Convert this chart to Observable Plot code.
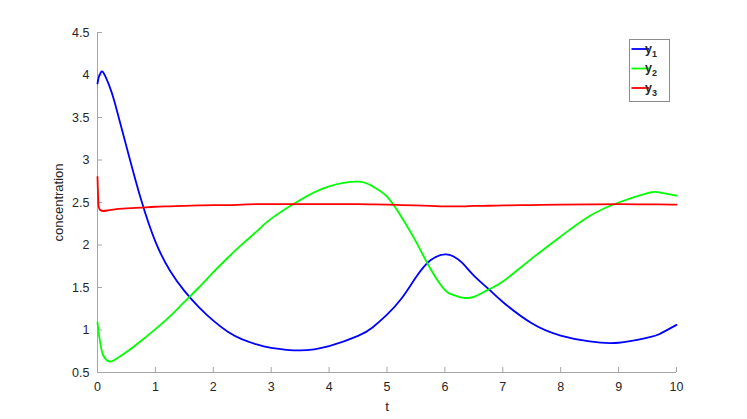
<!DOCTYPE html>
<html>
<head>
<meta charset="utf-8">
<script src="https://cdn.jsdelivr.net/npm/d3@7"></script>
<script src="https://cdn.jsdelivr.net/npm/@observablehq/plot@0.6"></script>
<style>
  html, body { margin: 0; padding: 0; background: #fff; }
  #chart { width: 747px; height: 419px; }
</style>
</head>
<body>
<div id="chart"></div>
<script>
const t  = [0,    0.02, 0.05, 0.1,  0.2,  0.3,  0.5,  0.75, 1,    1.25, 1.5,  1.75, 2,    2.25, 2.5,  2.75, 3,    3.5,  4,    4.5,   4.75, 5,    5.25, 5.5,  5.75, 6,    6.15,  6.3,   6.5,  6.75,  7,    7.5,  8,     8.5,   9,    9.5,  9.7,  10];
const y1 = [3.90, 3.97, 4.02, 4.03, 3.88, 3.67, 3.16, 2.54, 2.04, 1.70, 1.46, 1.27, 1.11, 0.98, 0.89, 0.83, 0.79, 0.76, 0.81, 0.93,  1.03, 1.18, 1.37, 1.62, 1.82, 1.89, 1.865, 1.79,  1.64, 1.485, 1.33, 1.08, 0.935, 0.865, 0.85, 0.91, 0.95, 1.06];
const y2 = [1.09, 0.97, 0.84, 0.70, 0.63, 0.65, 0.74, 0.87, 1.01, 1.16, 1.33, 1.50, 1.68, 1.85, 2.01, 2.16, 2.31, 2.53, 2.69, 2.745, 2.69, 2.57, 2.33, 2.04, 1.72, 1.47, 1.41,  1.382, 1.39, 1.475, 1.57, 1.84, 2.10,  2.34,  2.50, 2.61, 2.62, 2.58];
const y3 = [2.80, 2.45, 2.41, 2.40, 2.41, 2.42, 2.43, 2.44, 2.45, 2.455,2.46, 2.465,2.47, 2.47, 2.475,2.48, 2.48, 2.48, 2.48, 2.48,  2.478,2.475,2.47, 2.465,2.46, 2.455,2.455, 2.455, 2.46, 2.462, 2.465,2.47, 2.475, 2.478, 2.48, 2.478,2.477,2.475];

const seriesNames = ["y1", "y2", "y3"];
const seriesColors = ["#0000ff", "#00ff00", "#ff0000"];
const seriesCurves = ["natural", "natural", "monotone-x"];
const xTicks = [0, 1, 2, 3, 4, 5, 6, 7, 8, 9, 10];
const yTicks = [0.5, 1, 1.5, 2, 2.5, 3, 3.5, 4, 4.5];
const xLabel = "t";
const yLabel = "concentration";

const seriesData = [y1, y2, y3].map((ys, k) => ys.map((v, i) => ({t: t[i], v, s: seriesNames[k]})));

const axisColor = "#a6a6a6";
const textColor = "#262626";
const font = "Liberation Sans, Arial, Helvetica, sans-serif";
const fmt = d => String(d);

const chart = Plot.plot({
  width: 747,
  height: 419,
  marginLeft: 97,
  marginRight: 71,
  marginTop: 32,
  marginBottom: 47,
  style: {fontFamily: font, fontSize: "12.5px", color: textColor, background: "#fff"},
  x: {domain: [0, 10]},
  y: {domain: [0.5, 4.5]},
  color: {domain: seriesNames, range: seriesColors},
  marks: [
    Plot.ruleY([0.5], {x1: 0, x2: 10, stroke: axisColor, strokeWidth: 1}),
    Plot.ruleX([0], {y1: 0.5, y2: 4.5, stroke: axisColor, strokeWidth: 1}),
    Plot.ruleX(xTicks, {y1: 0.5, y2: 0.5, insetTop: -5, stroke: axisColor}),
    Plot.ruleY(yTicks, {x1: 0, x2: 0, insetRight: -5, stroke: axisColor}),
    Plot.axisX(xTicks, {tickSize: 0, tickPadding: 10, tickFormat: fmt, label: null, fill: textColor, fontSize: 12.5}),
    Plot.axisY(yTicks, {tickSize: 0, tickPadding: 8, tickFormat: fmt, label: null, fill: textColor, fontSize: 12.5}),
    ...seriesData.map((d, k) => Plot.line(d, {x: "t", y: "v", stroke: "s", strokeWidth: 1.8, curve: seriesCurves[k]})),
    Plot.text([xLabel], {frameAnchor: "bottom", dy: 38, fill: textColor, fontSize: 13.5}),
    Plot.text([yLabel], {frameAnchor: "left", textAnchor: "middle", dx: -39, rotate: -90, fill: textColor, fontSize: 13})
  ]
});

document.getElementById("chart").appendChild(chart);

// Legend (MATLAB style box, top right)
const svg = d3.select(chart);
const lg = svg.append("g").attr("font-family", font);
lg.append("rect").attr("x", 629.5).attr("y", 39.5).attr("width", 40).attr("height", 62)
  .attr("fill", "#fff").attr("stroke", "#8c8c8c").attr("stroke-width", 1);
seriesNames.forEach((name, i) => {
  const yy = 49 + i * 19.5;
  lg.append("line").attr("x1", 631.5).attr("x2", 649).attr("y1", yy).attr("y2", yy)
    .attr("stroke", seriesColors[i]).attr("stroke-width", 1.8);
  const tx = lg.append("text").attr("x", 651).attr("y", yy + 3.5)
    .attr("fill", textColor).attr("font-size", 12.5).attr("font-weight", "bold");
  tx.append("tspan").text(name[0]);
  tx.append("tspan").attr("dy", 4).attr("font-size", 9).text(name.slice(1));
});
</script>
</body>
</html>
